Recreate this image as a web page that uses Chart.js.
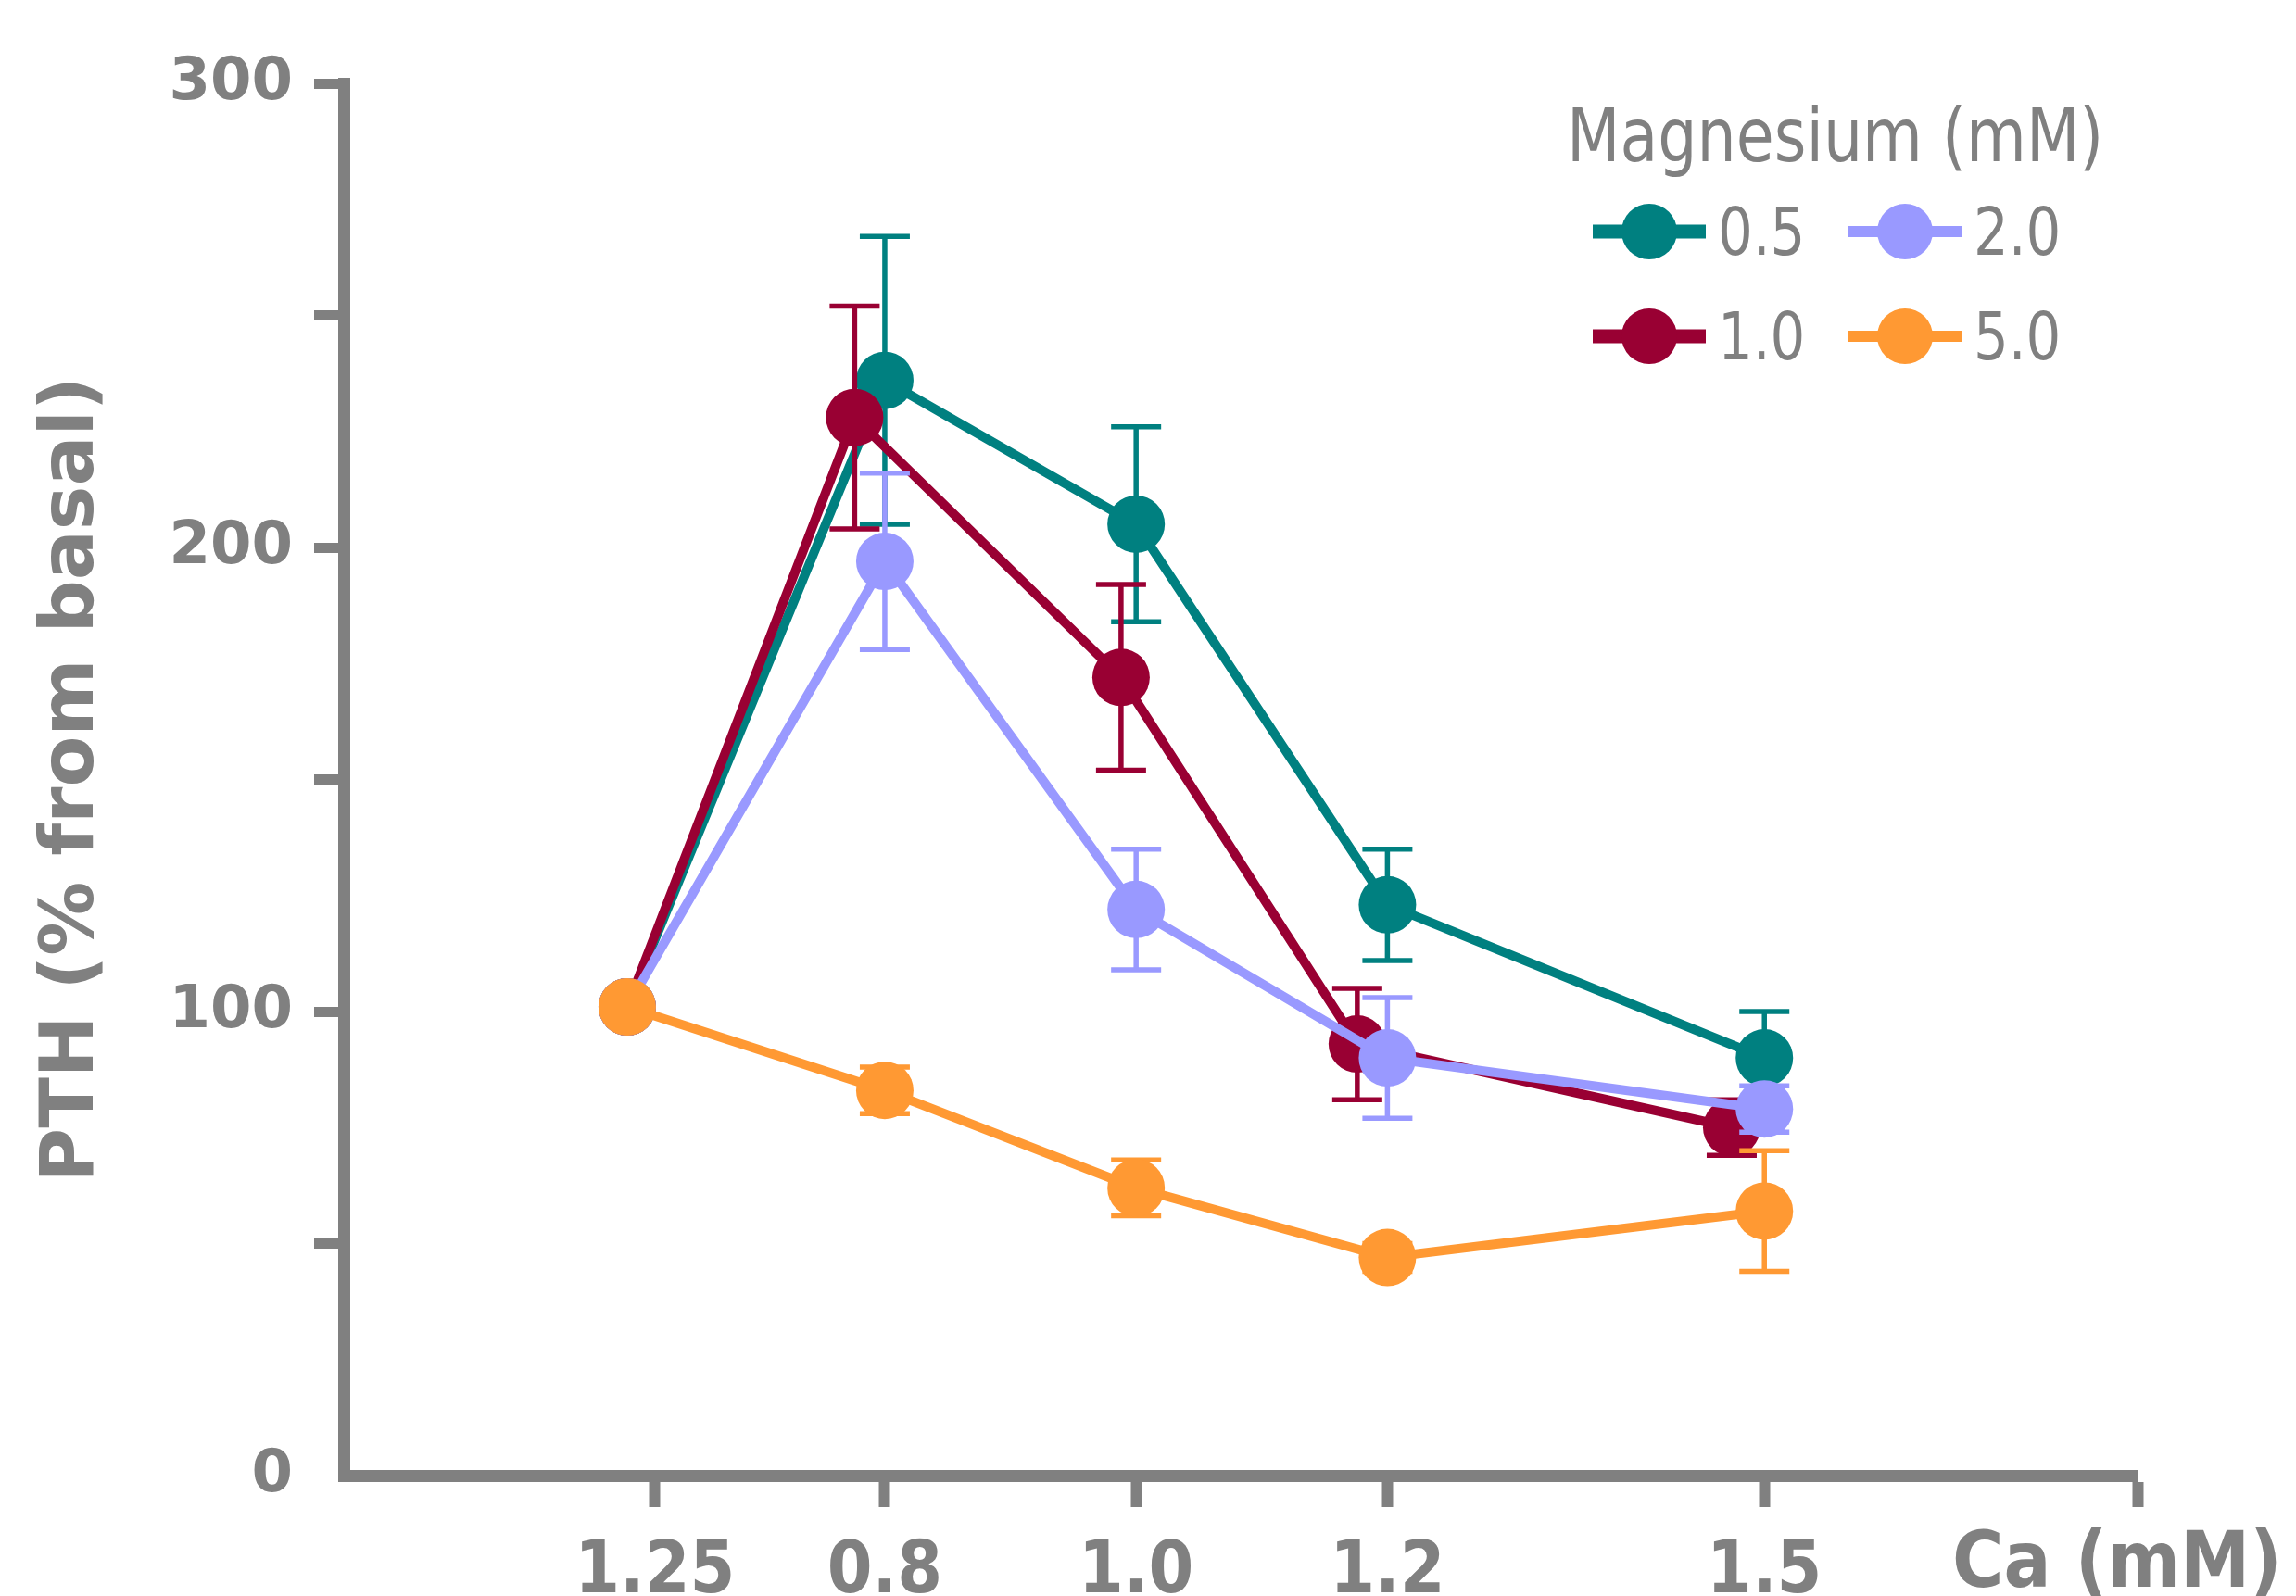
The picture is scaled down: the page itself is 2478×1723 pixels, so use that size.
<!DOCTYPE html>
<html>
<head>
<meta charset="utf-8">
<style>
  body { margin: 0; background: #fff; }
  .wrap { width: 2478px; height: 1723px; position: relative; }
</style>
</head>
<body>
<div class="wrap"><canvas id="pthChart"></canvas></div>
<script src="https://cdn.jsdelivr.net/npm/chart.js"></script>
<script>
// Ca axis: the 1.25 mM basal point sits on a broken stretch left of 0.8
const tickValues = [0.617, 0.8, 1.0, 1.2, 1.5];
const tickLabels = ['1.25', '0.8', '1.0', '1.2', '1.5'];
const caX = [0.595, 0.8, 1.0, 1.2, 1.5];
const caXShifted = [0.595, 0.776, 0.988, 1.176, 1.474]; // 1.0 mM Mg points are drawn a little left

const mgLabels = ['0.5', '1.0', '2.0', '5.0'];
const pthMg05 = [101, 236, 205, 123, 90];
const pthMg10 = [101, 228, 172, 93, 75];
const pthMg20 = [101, 197, 122, 90, 79];
const pthMg50 = [101, 83, 62, 47, 57];
const errMg05 = [0, 31, 21, 12, 10];
const errMg10 = [0, 24, 20, 12, 6];
const errMg20 = [0, 19, 13, 13, 5];
const errMg50 = [0, 5, 6, 3, 13];

const colors = ['#008080', '#990033', '#9999ff', '#ff9933'];
const grey = '#808080';

const series = [pthMg05, pthMg10, pthMg20, pthMg50];
const errors = [errMg05, errMg10, errMg20, errMg50];
const xs = [caX, caXShifted, caX, caX];

const datasets = series.map((vals, s) => ({
  label: mgLabels[s],
  data: vals.map((v, i) => ({ x: xs[s][i], y: v })),
  borderColor: colors[s],
  backgroundColor: colors[s],
  pointBackgroundColor: colors[s],
  pointBorderColor: colors[s],
  borderWidth: 10,
  pointRadius: 31,
  pointBorderWidth: 0,
  order: 3 - s,
  clip: false
}));

// error bars drawn just under each dataset's own line
const errorBars = {
  id: 'errorBars',
  beforeDatasetDraw(chart, args) {
    const s = args.index;
    const xScale = chart.scales.x, yScale = chart.scales.y;
    const ctx = chart.ctx;
    ctx.save();
    ctx.strokeStyle = colors[s];
    ctx.lineWidth = 5.5;
    series[s].forEach((v, i) => {
      const e = errors[s][i];
      if (!e) return;
      const px = xScale.getPixelForValue(xs[s][i]);
      const top = yScale.getPixelForValue(v + e);
      const bot = yScale.getPixelForValue(v - e);
      ctx.beginPath();
      ctx.moveTo(px, top); ctx.lineTo(px, bot);
      ctx.moveTo(px - 27, top); ctx.lineTo(px + 27, top);
      ctx.moveTo(px - 27, bot); ctx.lineTo(px + 27, bot);
      ctx.stroke();
    });
    ctx.restore();
  }
};

const legendFont = '"DejaVu Sans Condensed", "DejaVu Sans", sans-serif';
function stretchedText(ctx, text, x, y, sy) {
  ctx.save();
  ctx.translate(x, y);
  ctx.scale(1, sy);
  ctx.fillText(text, 0, 0);
  ctx.restore();
}
const magLegend = {
  id: 'magLegend',
  afterDraw(chart) {
    const ctx = chart.ctx;
    ctx.save();
    ctx.fillStyle = grey;
    ctx.textBaseline = 'alphabetic';
    ctx.font = '74px ' + legendFont;
    stretchedText(ctx, 'Magnesium (mM)', 1691, 174, 1.08);
    ctx.font = '66px ' + legendFont;
    const cols = [1719, 1995], rows = [250, 363];
    mgLabels.forEach((lab, s) => {
      const x0 = cols[Math.floor(s / 2)], y0 = rows[s % 2];
      ctx.strokeStyle = colors[s];
      ctx.lineWidth = s < 2 ? 15 : 12;
      ctx.beginPath();
      ctx.moveTo(x0, y0); ctx.lineTo(x0 + 122, y0);
      ctx.stroke();
      ctx.fillStyle = colors[s];
      ctx.beginPath();
      ctx.arc(x0 + 61, y0, 30, 0, Math.PI * 2);
      ctx.fill();
      ctx.fillStyle = grey;
      stretchedText(ctx, lab, x0 + 135, y0 + 25, 1.08);
    });
    // x axis title sits on the tick label row
    ctx.font = 'bold 84px ' + legendFont;
    ctx.fillText('Ca (mM)', 2107, 1713);
    ctx.restore();
  }
};

new Chart(document.getElementById('pthChart'), {
  type: 'line',
  data: { datasets },
  options: {
    responsive: true,
    maintainAspectRatio: false,
    animation: false,
    layout: { padding: { top: 90, right: 171, left: 0, bottom: 0 } },
    plugins: { legend: { display: false }, tooltip: { enabled: false } },
    scales: {
      x: {
        type: 'linear',
        min: 0.3694,
        max: 1.797,
        afterBuildTicks: (scale) => {
          scale.ticks = tickValues.concat([scale.max]).map(v => ({ value: v }));
        },
        afterFit: (scale) => { scale.height = 130; },
        ticks: {
          callback: (v, i) => tickLabels[i] ?? '',
          color: grey,
          padding: 25,
          maxRotation: 0,
          autoSkip: false,
          font: { family: legendFont, weight: 'bold', size: 78 }
        },
        grid: { drawOnChartArea: false, tickLength: 34, tickWidth: 12, tickColor: grey },
        border: { color: grey, width: 13 }
      },
      y: {
        min: 0,
        max: 300,
        afterFit: (scale) => { scale.width = 371; },
        ticks: {
          stepSize: 50,
          callback: v => (v % 100 === 0 ? v : ''),
          color: grey,
          padding: 23,
          font: { family: '"DejaVu Sans", sans-serif', weight: 'bold', size: 64 }
        },
        grid: {
          drawOnChartArea: false,
          tickLength: 32,
          tickWidth: 11,
          tickColor: c => (c.tick && c.tick.value === 0 ? 'rgba(0,0,0,0)' : grey)
        },
        border: { color: grey, width: 13 },
        title: {
          display: true,
          text: 'PTH (% from basal)',
          color: grey,
          padding: { top: 31, bottom: 0 },
          font: { family: '"DejaVu Sans", sans-serif', weight: 'bold', size: 80 }
        }
      }
    }
  },
  plugins: [errorBars, magLegend]
});
</script>
</body>
</html>
